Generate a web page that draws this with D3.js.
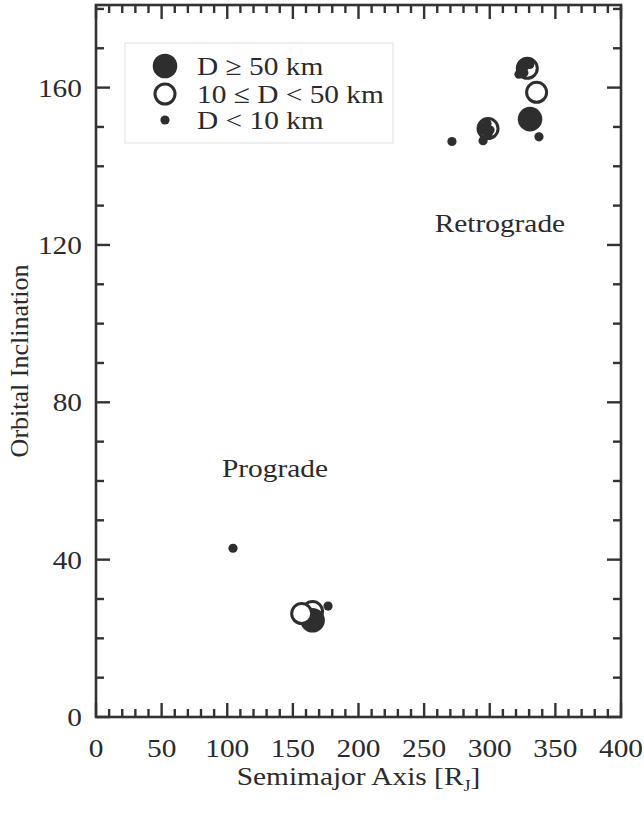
<!DOCTYPE html>
<html>
<head>
<meta charset="utf-8">
<script src="https://cdn.jsdelivr.net/npm/d3@7"></script>
<style>
  html, body { margin: 0; padding: 0; background: #fff; }
  svg { display: block; }
  text { font-family: "Liberation Serif", "Times New Roman", serif; fill: #2b2b2b; }
</style>
</head>
<body>
<svg id="chart" width="644" height="820"></svg>
<script>
// ---- data ----
const sizeClasses = ["D \u2265 50 km", "10 \u2264 D < 50 km", "D < 10 km"];
// drawing order follows array order; class: 0 = D>=50 (filled), 1 = 10-50 (open), 2 = <10 (small)
const semimajorAxis = [165.0, 165.0, 156.7, 176.8, 104.4,
                       271.2, 298.7, 295.6, 297.1, 297.9, 300.2, 294.9, 298.7, 294.9,
                       328.6, 325.3, 328.4, 324.6, 326.6, 330.5, 326.0, 322.3,
                       335.7, 330.7, 337.5];
const inclination   = [26.8, 24.6, 26.3, 28.2, 42.9,
                       146.3, 149.6, 150.1, 148.8, 150.9, 149.2, 149.3, 148.2, 146.5,
                       164.9, 166.1, 166.3, 164.8, 165.4, 165.9, 163.8, 163.4,
                       158.8, 152.0, 147.5];
const sizeClass     = [1, 0, 1, 2, 2,
                       2, 1, 2, 2, 2, 2, 2, 2, 2,
                       1, 2, 2, 2, 2, 2, 2, 2,
                       1, 0, 2];
const xTicks = [0, 50, 100, 150, 200, 250, 300, 350, 400];
const yTicks = [0, 40, 80, 120, 160];
const annotations = [{text: "Prograde", a: 96, i: 61.0}, {text: "Retrograde", a: 258, i: 123.2}];

(function () {
// ---- layout ----
const svg = d3.select("#chart");
const pl = 96, pr = 621, pt = 5, pb = 717;
const x = d3.scaleLinear().domain([0, 400]).range([pl, pr]);
const y = d3.scaleLinear().domain([0, 181]).range([pb, pt]);
const dark = "#2e2e2e";
const fontSize = 26;
const stretch = 1.13;   // glyphs in the reference are slightly wide

const pts = semimajorAxis.map((a, k) => ({a, i: inclination[k], c: sizeClass[k]}));

function drawMarker(g, c, cx, cy) {
  if (c === 0) {
    g.append("circle").attr("cx", cx).attr("cy", cy).attr("r", 12.3).attr("fill", dark);
  } else if (c === 1) {
    g.append("circle").attr("cx", cx).attr("cy", cy).attr("r", 10).attr("fill", "#fff")
      .attr("stroke", dark).attr("stroke-width", 3);
  } else {
    g.append("circle").attr("cx", cx).attr("cy", cy).attr("r", 4.6).attr("fill", dark);
  }
}
// text placed at anchor (tx,ty), stretched horizontally
function label(parent, tx, ty, anchor, str, dy) {
  const t = parent.append("text")
    .attr("transform", `translate(${tx},${ty}) scale(${stretch},1)`)
    .attr("text-anchor", anchor).attr("font-size", fontSize);
  if (dy) t.attr("dy", dy);
  if (str !== null) t.text(str);
  return t;
}

// ticks (inward, all four sides)
const tickG = svg.append("g").attr("stroke", "#333").attr("stroke-width", 2.4);
const xMinor = d3.range(0, 401, 10), yMinor = d3.range(0, 181, 10);
xMinor.forEach(v => {
  const len = v % 50 === 0 ? 14 : 8;
  tickG.append("line").attr("x1", x(v)).attr("x2", x(v)).attr("y1", pb).attr("y2", pb - len);
  tickG.append("line").attr("x1", x(v)).attr("x2", x(v)).attr("y1", pt).attr("y2", pt + len);
});
yMinor.forEach(v => {
  const len = v % 40 === 0 ? 14 : 8;
  tickG.append("line").attr("x1", pl).attr("x2", pl + len).attr("y1", y(v)).attr("y2", y(v));
  tickG.append("line").attr("x1", pr).attr("x2", pr - len).attr("y1", y(v)).attr("y2", y(v));
});

// frame
svg.append("rect").attr("x", pl).attr("y", pt).attr("width", pr - pl).attr("height", pb - pt)
  .attr("fill", "none").attr("stroke", "#333").attr("stroke-width", 2.6);

// tick labels
const xl = svg.append("g");
xTicks.forEach(d => label(xl, x(d), 757, "middle", String(d)));
const yl = svg.append("g");
yTicks.forEach(d => label(yl, 82, y(d), "end", String(d), "0.35em"));

// axis titles
const xt = label(svg, (pl + pr) / 2, 785, "middle", null);
xt.append("tspan").text("Semimajor Axis [R");
xt.append("tspan").attr("font-size", 16).attr("dy", 6).text("J");
xt.append("tspan").attr("dy", -6).text("]");
svg.append("text").attr("transform", `translate(28,${(pt + pb) / 2}) rotate(-90)`)
  .attr("text-anchor", "middle").attr("font-size", fontSize).text("Orbital Inclination");

// annotations
annotations.forEach(d => label(svg, x(d.a), y(d.i), "start", d.text));

// points
const pg = svg.append("g");
pts.forEach(p => drawMarker(pg, p.c, x(p.a), y(p.i)));

// legend
const lg = svg.append("g");
lg.append("rect").attr("x", 125).attr("y", 43).attr("width", 268).attr("height", 100)
  .attr("fill", "#fff").attr("stroke", "#e4e4e4").attr("stroke-width", 1.2);
const legendY = [66, 94, 120];
sizeClasses.forEach((txt, k) => {
  drawMarker(lg, k, 165, legendY[k]);
  label(lg, 197, legendY[k], "start", txt, "0.33em");
});
})();
</script>
</body>
</html>
